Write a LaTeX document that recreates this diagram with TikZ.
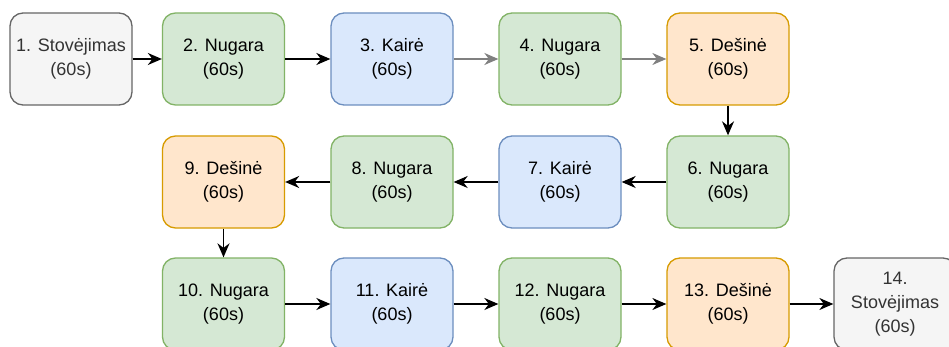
\documentclass[tikz,border=0pt]{standalone}
\usepackage{fontspec}
\setmainfont{Liberation Sans}
\usetikzlibrary{arrows.meta}
\definecolor{grayfill}{HTML}{F5F5F5}
\definecolor{grayline}{HTML}{666666}
\definecolor{graytext}{HTML}{333333}
\definecolor{greenfill}{HTML}{D5E8D4}
\definecolor{greenline}{HTML}{82B366}
\definecolor{bluefill}{HTML}{DAE8FC}
\definecolor{blueline}{HTML}{6C8EBF}
\definecolor{orangefill}{HTML}{FFE6CC}
\definecolor{orangeline}{HTML}{D79B00}
\definecolor{softarrow}{HTML}{808080}
\tikzset{
  stepbox/.style={rectangle, rounded corners=13pt, minimum width=122pt, minimum height=92pt,
    line width=1.3pt, align=center, inner sep=0pt,
    font=\fontsize{18}{24}\selectfont},
  standbox/.style={stepbox, draw=grayline, fill=grayfill, text=graytext},
  backbox/.style={stepbox, draw=greenline, fill=greenfill},
  leftbox/.style={stepbox, draw=blueline, fill=bluefill},
  rightbox/.style={stepbox, draw=orangeline, fill=orangefill},
  flow/.style={line width=1.5pt, draw=black, -{Stealth[length=14pt,width=12pt,inset=4.5pt]}},
  softflow/.style={flow, draw=softarrow, -{Stealth[length=14pt,width=12pt,inset=4.5pt,fill=softarrow]}}
}
\begin{document}
\begin{tikzpicture}[x=1pt,y=-1pt]
  \useasboundingbox (0,0) rectangle (949,347);
  \fill[white] (0,0) rectangle (949,347);
  \clip (0,0) rectangle (949,347);
  % first row
  \node[standbox] (s1) at (71,59) {1. Stovėjimas\\(60s)};
  \node[backbox]  (s2) at (223.5,59) {2. Nugara\\(60s)};
  \node[leftbox]  (s3) at (392,59) {3. Kairė\\(60s)};
  \node[backbox]  (s4) at (560,59) {4. Nugara\\(60s)};
  \node[rightbox] (s5) at (728,59) {5. Dešinė\\(60s)};
  % second row, right to left
  \node[backbox]  (s6) at (728,182) {6. Nugara\\(60s)};
  \node[leftbox]  (s7) at (560,182) {7. Kairė\\(60s)};
  \node[backbox]  (s8) at (392,182) {8. Nugara\\(60s)};
  \node[rightbox] (s9) at (223.5,182) {9. Dešinė\\(60s)};
  % third row
  \node[backbox]  (s10) at (223.5,304) {10. Nugara\\(60s)};
  \node[leftbox]  (s11) at (392,304) {11. Kairė\\(60s)};
  \node[backbox]  (s12) at (560,304) {12. Nugara\\(60s)};
  \node[rightbox] (s13) at (728,304) {13. Dešinė\\(60s)};
  \node[standbox] (s14) at (895,304) {14.\\Stovėjimas\\(60s)};
  % connectors
  \draw[flow] (s1) -- (s2);
  \draw[flow] (s2) -- (s3);
  \draw[softflow] (s3) -- (s4);
  \draw[softflow] (s4) -- (s5);
  \draw[flow] (s5) -- (s6);
  \draw[flow] (s6) -- (s7);
  \draw[flow] (s7) -- (s8);
  \draw[flow] (s8) -- (s9);
  \draw[flow] (s9) -- (s10);
  \draw[flow] (s10) -- (s11);
  \draw[flow] (s11) -- (s12);
  \draw[flow] (s12) -- (s13);
  \draw[flow] (s13) -- (s14);
\end{tikzpicture}
\end{document}
